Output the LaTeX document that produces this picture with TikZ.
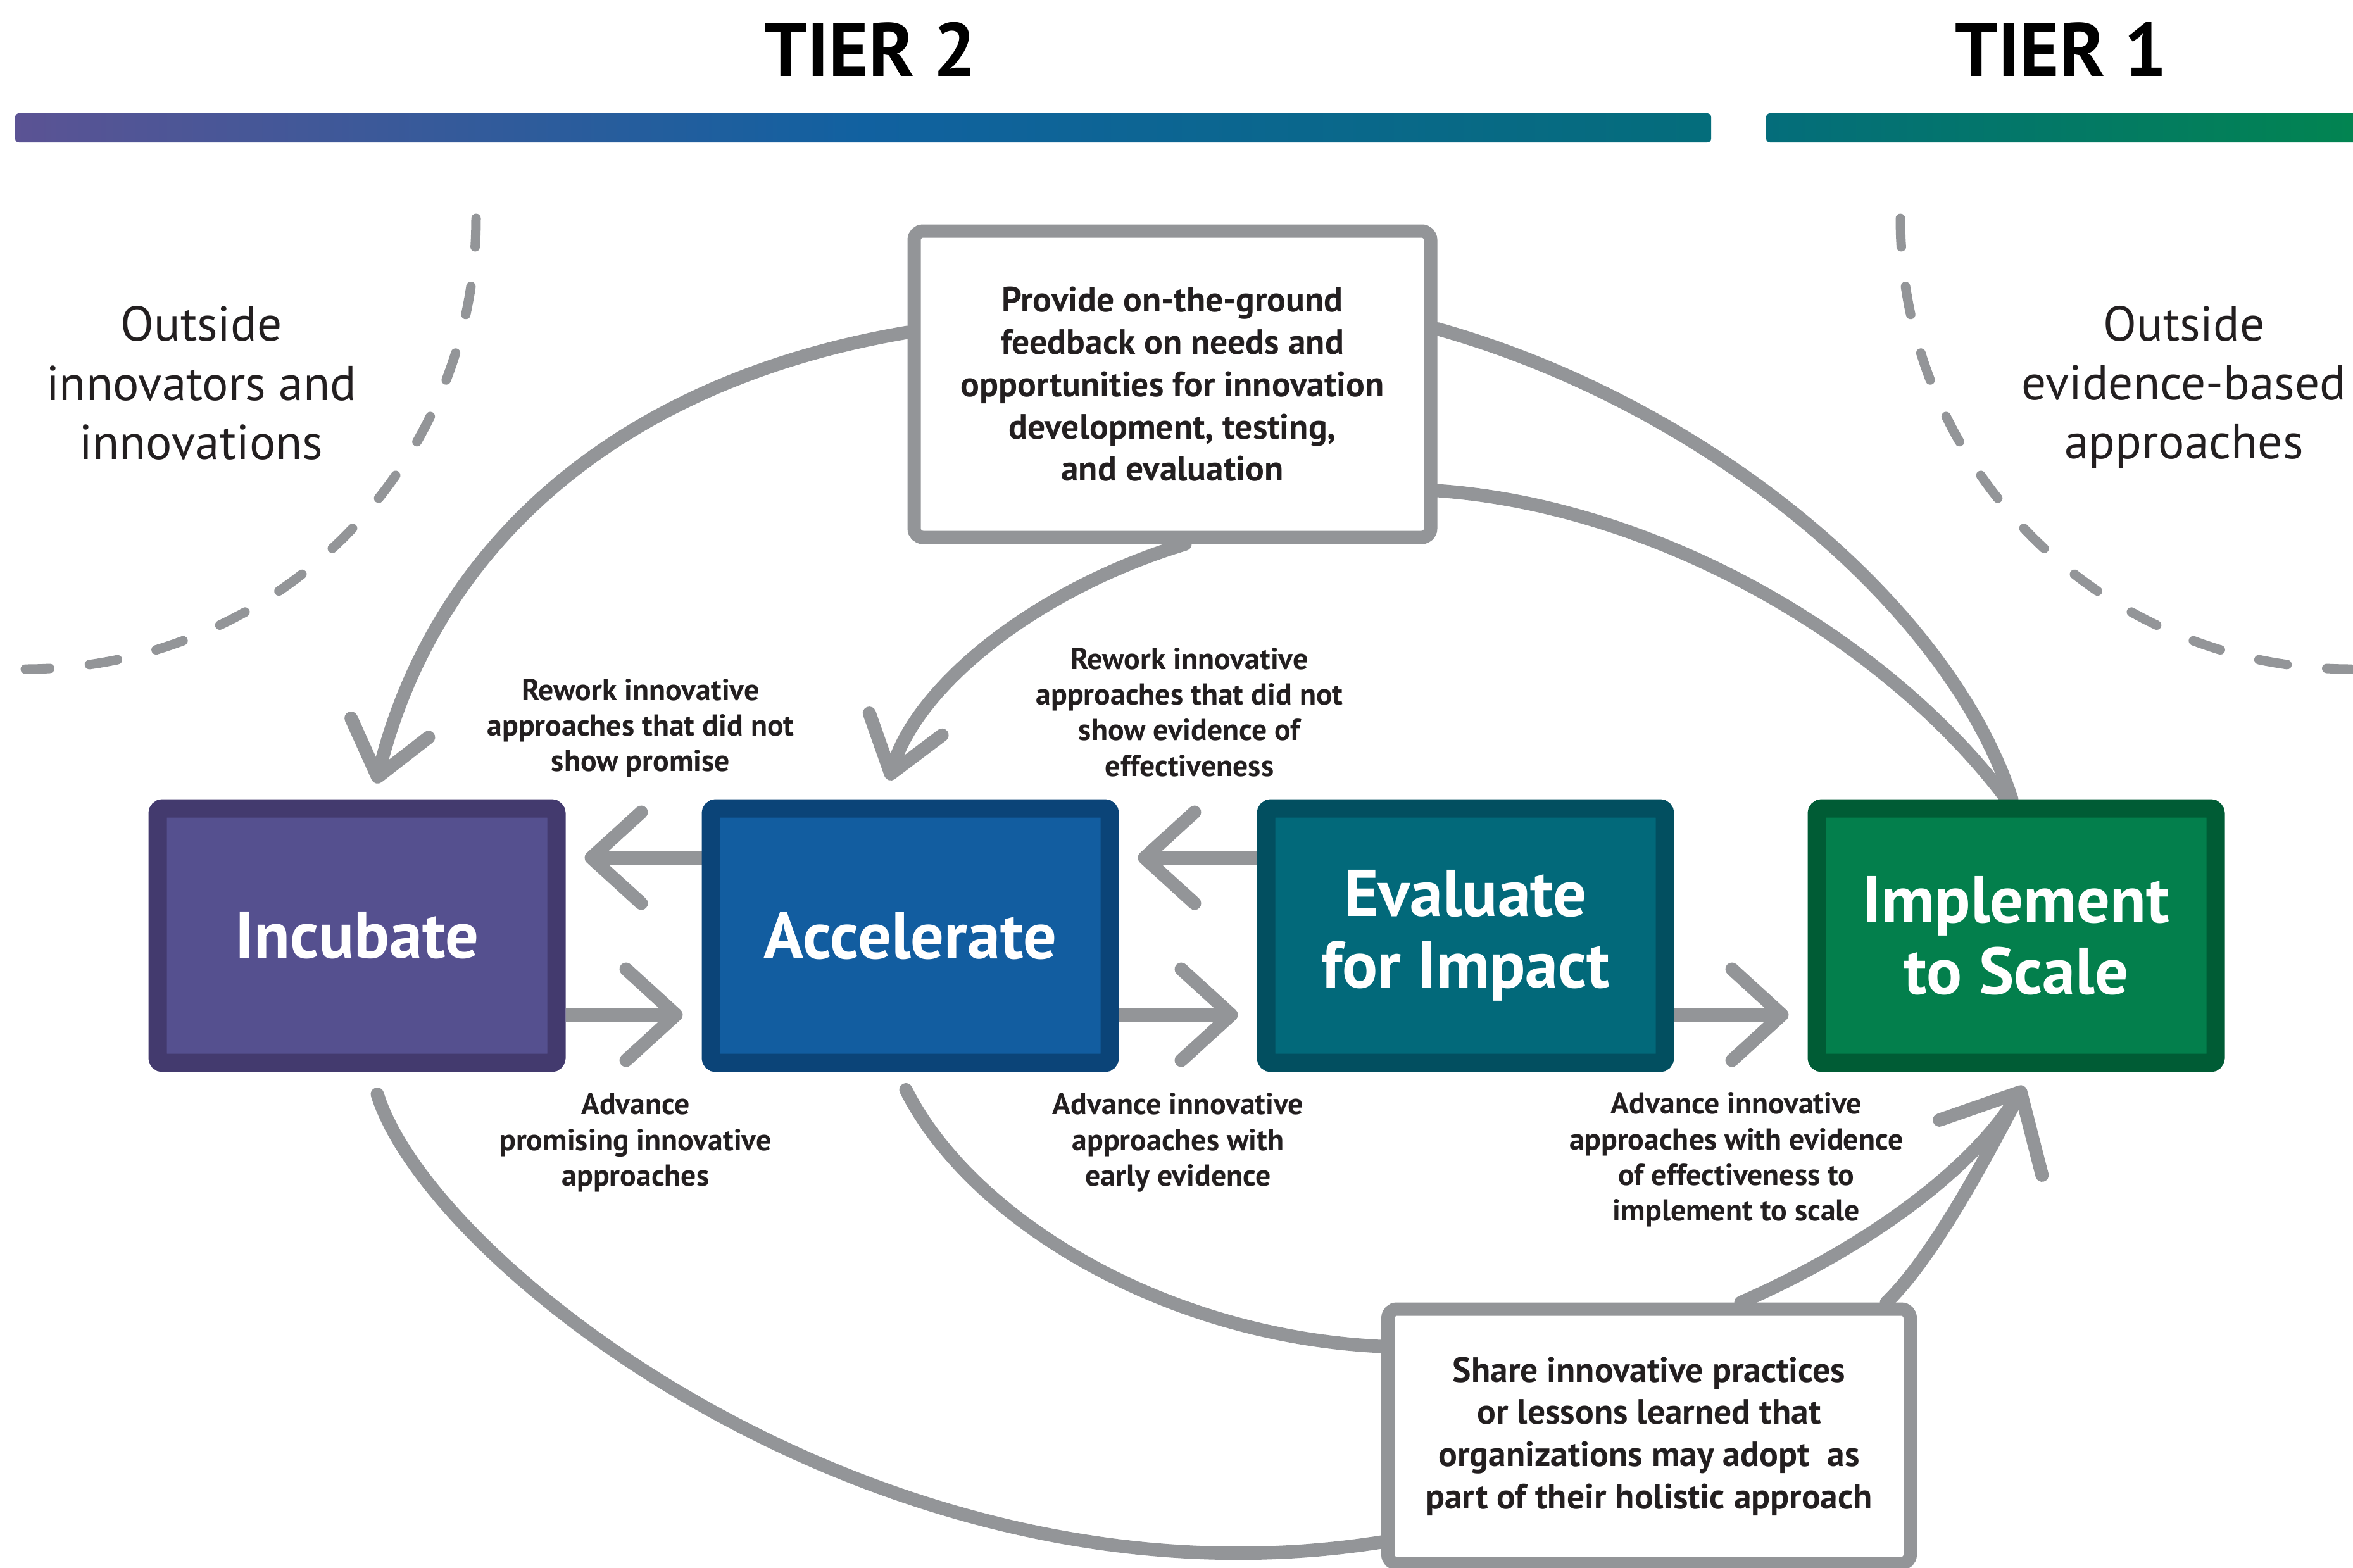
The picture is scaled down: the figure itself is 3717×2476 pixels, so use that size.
\documentclass[tikz,border=0pt]{standalone}
\usepackage{fontspec}
\setmainfont{PT Sans}
\usepackage{xcolor}
\usepackage{tikz}
\usetikzlibrary{arrows.meta,positioning,backgrounds}
\definecolor{ink}{HTML}{231F20}
\definecolor{linkgray}{HTML}{939598}
\definecolor{incdark}{HTML}{433A6E}
\definecolor{incfill}{HTML}{55508F}
\definecolor{accdark}{HTML}{0B4478}
\definecolor{accfill}{HTML}{125DA0}
\definecolor{evadark}{HTML}{024F60}
\definecolor{evafill}{HTML}{02697A}
\definecolor{impdark}{HTML}{005C35}
\definecolor{impfill}{HTML}{037F4C}
\definecolor{barpurple}{HTML}{5B5394}
\definecolor{barblue}{HTML}{1161A0}
\definecolor{barteal}{HTML}{046D7B}
\definecolor{bargreen}{HTML}{02854F}
\tikzset{
  stage/.style={draw, line width=2.9mm, rounded corners=0.8mm, minimum width=63mm, minimum height=40.2mm, align=center, text=white, font=\fontsize{29.7}{32}\selectfont\bfseries},
  textbox/.style={draw=linkgray, fill=white, line width=2.1mm, rounded corners=1.4mm, align=center, text=ink, font=\fontsize{15.8}{19}\selectfont\bfseries},
  note/.style={align=center, text=ink, font=\fontsize{13.6}{16}\selectfont\bfseries},
  outside/.style={align=center, text=ink, font=\fontsize{22}{26.5}\selectfont},
  tier/.style={text=black, font=\fontsize{34}{38}\selectfont\bfseries},
  link/.style={draw=linkgray, line width=2.1mm, line cap=round},
  flow/.style={link, line cap=butt, -{Straight Barb[length=7.9mm, width=14.4mm, round]}, shorten >=3mm},
  boundary/.style={draw=linkgray, line width=1.5mm, line cap=round, dash pattern=on 4.5mm off 6.3mm}
}
\begin{document}
\begin{tikzpicture}[x=0.1mm, y=-0.1mm]
  \useasboundingbox (0,0) rectangle (3717,2476);
  \shade[left color=barpurple, right color=barteal, middle color=barblue, rounded corners=0.6mm] (24,179) rectangle (2703,225);
  \shade[left color=barteal, right color=bargreen, rounded corners=0.6mm] (2790,179) rectangle (3760,225);
  \node[tier] (tier2) at (1375,78) {TIER 2};
  \node[tier] (tier1) at (3256,78) {TIER 1};
  \node[outside] (outleft) at (318,605) {Outside\\innovators and\\innovations};
  \node[outside] (outright) at (3450,612) {Outside\\evidence-based\\approaches};
  \draw[boundary] (752,345) arc[start angle=0, end angle=-90, radius=71.2mm];
  \draw[boundary] (3002,345) arc[start angle=180, end angle=270, radius=71.2mm];

  \node[stage, fill=incfill, draw=incdark] (incubate) at (564,1478) {Incubate};
  \node[stage, fill=accfill, draw=accdark, right=21.5mm of incubate] (accelerate) {Accelerate};
  \node[stage, fill=evafill, draw=evadark, right=21.8mm of accelerate] (evaluate) {Evaluate\\for Impact};
  \node[stage, fill=impfill, draw=impdark, right=21.1mm of evaluate] (implement) {Implement\\to Scale};

  \node[textbox, minimum width=81.6mm, minimum height=48.4mm] (feedback) at (1852,607) {Provide on-the-ground\\feedback on needs and\\opportunities for innovation\\development, testing,\\and evaluation};
  \node[textbox, minimum width=82.5mm, minimum height=40.2mm] (share) at (2605,2269) {Share innovative practices\\or lessons learned that\\organizations may adopt~ as\\part of their holistic approach};

  \node[note] (rework1) at (1012,1150) {Rework innovative\\approaches that did not\\show promise};
  \node[note] (rework2) at (1879,1125) {Rework innovative\\approaches that did not\\show evidence of\\effectiveness};
  \node[note] (advance1) at (1004,1805) {Advance\\promising innovative\\approaches};
  \node[note] (advance2) at (1861,1805) {Advance innovative\\approaches with\\early evidence};
  \node[note] (advance3) at (2743,1832) {Advance innovative\\approaches with evidence\\of effectiveness to\\implement to scale};

  \coordinate (scaletip) at ([xshift=1.2mm, yshift=-2.2mm]implement.south);
  \begin{scope}[on background layer]
    \draw[flow] ([yshift=12.3mm]accelerate.west) -- ([yshift=12.3mm]incubate.east);
    \draw[flow] ([yshift=-12.5mm]incubate.east) -- ([yshift=-12.5mm]accelerate.west);
    \draw[flow] ([yshift=12.3mm]evaluate.west) -- ([yshift=12.3mm]accelerate.east);
    \draw[flow] ([yshift=-12.5mm]accelerate.east) -- ([yshift=-12.5mm]evaluate.west);
    \draw[flow] ([yshift=-12.5mm]evaluate.east) -- ([yshift=-12.5mm]implement.west);
    \draw[link, -{Straight Barb[length=8mm, width=12.6mm, round]}] ([yshift=8.2mm]feedback.west) .. controls (990,600) and (690,850) .. ([xshift=3mm, yshift=2.5mm]incubate.north);
    \draw[link, -{Straight Barb[length=8.2mm, width=12mm, round]}] ([xshift=2mm]feedback.south) .. controls (1640,930) and (1450,1080) .. ([xshift=-3.4mm, yshift=3mm]accelerate.north);
    \draw[link] ([yshift=8.75mm]feedback.east) .. controls (2700,640) and (3080,960) .. ([xshift=-0.7mm]implement.north);
    \draw[link] ([yshift=-16.8mm]feedback.east) .. controls (2620,800) and (2980,1010) .. ([xshift=-1.5mm]implement.north);
    \draw[link] ([xshift=3.2mm, yshift=-3.5mm]incubate.south) .. controls (680,2000) and (1400,2560) .. ([yshift=-16.7mm]share.west);
    \draw[link] ([xshift=-0.7mm, yshift=-2.8mm]accelerate.south) .. controls (1530,1920) and (1830,2110) .. ([yshift=14.2mm]share.west);
    \draw[link, shorten >=3mm] ([xshift=14.5mm]share.north) .. controls (2950,1970) and (3110,1850) .. (scaletip);
    \draw[link, -{Straight Barb[length=10mm, width=18.4mm, round]}] ([xshift=37.5mm]share.north) .. controls (3060,1980) and (3150,1803) .. (scaletip);
  \end{scope}
\end{tikzpicture}
\end{document}
